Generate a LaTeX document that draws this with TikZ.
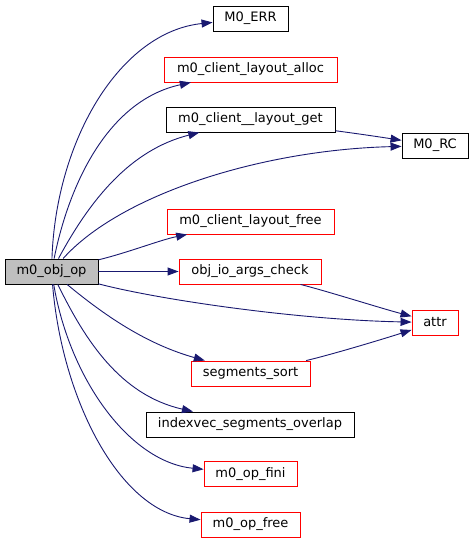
\documentclass[tikz,border=0pt]{standalone}
\usepackage{fontspec}
\setmainfont{DejaVu Sans}
\usetikzlibrary{arrows.meta}
\definecolor{edgeblue}{RGB}{25,25,112}
\definecolor{nodegray}{RGB}{191,191,191}
\begin{document}
\begin{tikzpicture}[x=1pt,y=-1pt,
  box/.style={draw=black,line width=0.9pt,rectangle,inner sep=0pt,minimum height=25pt,font=\fontsize{13}{15}\selectfont},
  redbox/.style={box,draw=red},
  rootbox/.style={box,fill=nodegray},
  call/.style={draw=edgeblue,line width=0.9pt,-{Triangle[length=11pt,width=8pt]},shorten >=0pt}]
\useasboundingbox (0,0) rectangle (473,544);
\node[rootbox,minimum width=93pt] (op) at (51.5,271.5) {m0\_obj\_op};
\node[box,minimum width=75pt] (err) at (250.5,18.5) {M0\_ERR};
\node[redbox,minimum width=173pt] (alloc) at (250.5,69.5) {m0\_client\_layout\_alloc};
\node[box,minimum width=169pt] (get) at (250.5,119.5) {m0\_client\_\_layout\_get};
\node[box,minimum width=66pt] (rc) at (435,145.5) {M0\_RC};
\node[redbox,minimum width=167pt] (free) at (250.5,221.5) {m0\_client\_layout\_free};
\node[redbox,minimum width=142pt] (args) at (250,271.5) {obj\_io\_args\_check};
\node[redbox,minimum width=46pt] (attr) at (435,322.5) {attr};
\node[redbox,minimum width=119pt] (sort) at (250.5,373.5) {segments\_sort};
\node[box,minimum width=208pt] (idx) at (250,424.5) {indexvec\_segments\_overlap};
\node[redbox,minimum width=93pt] (fini) at (250.5,474) {m0\_op\_fini};
\node[redbox,minimum width=99pt] (opfree) at (250.5,524.5) {m0\_op\_free};
% edges
\draw[call] (op) .. controls (56,140) and (120,32) .. (err);
\draw[call] (op) .. controls (70,180) and (110,100) .. (alloc);
\draw[call] (op) .. controls (90,200) and (130,150) .. (get);
\draw[call] (op) .. controls (120,195) and (260,150) .. (rc);
\draw[call] (op) .. controls (130,252) and (160,240) .. (free);
\draw[call] (op) -- (args);
\draw[call] (op) .. controls (160,300) and (300,320) .. (attr);
\draw[call] (op) .. controls (110,320) and (150,345) .. (sort);
\draw[call] (op) .. controls (85,340) and (120,395) .. (idx);
\draw[call] (op) .. controls (70,380) and (130,462) .. (fini);
\draw[call] (op) .. controls (62,400) and (120,512) .. (opfree);
\draw[call] (get) .. controls (360,134) and (380,137) .. (rc);
\draw[call] (args) .. controls (330,292) and (380,308) .. (attr);
\draw[call] (sort) .. controls (330,355) and (380,340) .. (attr);
\end{tikzpicture}
\end{document}
